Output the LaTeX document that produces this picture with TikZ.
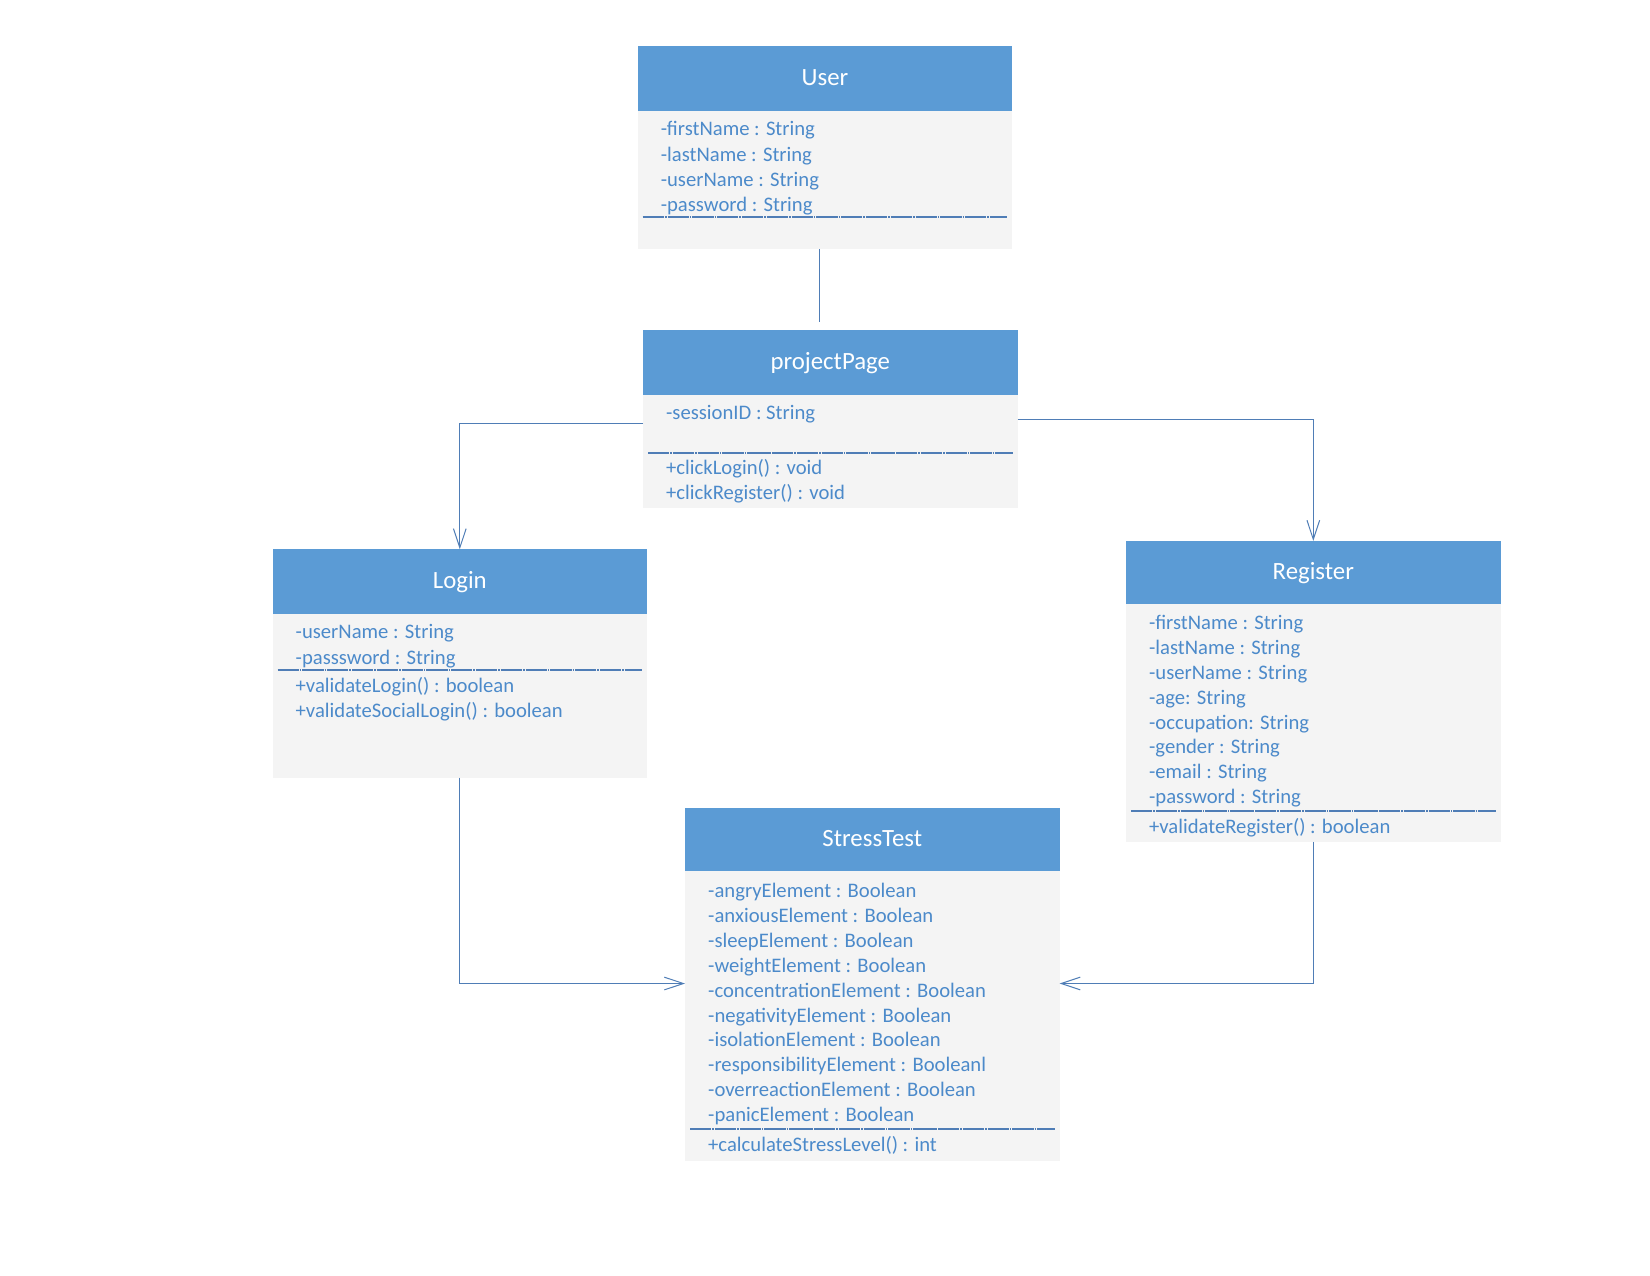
\documentclass[tikz,border=0pt]{standalone}
\usepackage{fontspec}
\setmainfont{Carlito}
\usetikzlibrary{arrows.meta,calc}
\definecolor{headblue}{RGB}{91,155,213}
\definecolor{bodygrey}{RGB}{244,244,244}
\definecolor{txtblue}{RGB}{76,138,202}
\definecolor{lineblue}{RGB}{79,125,182}
\tikzset{
  headbox/.style={fill=headblue, draw=none, inner sep=0pt, outer sep=0pt, text=white,
    font=\fontsize{18.6}{20}\selectfont, text height=11.8pt, text depth=1pt,
    minimum width=374.6*0.75pt},
  bodybox/.style={fill=bodygrey, draw=none, inner sep=0pt, outer sep=0pt},
  attr/.style={text=txtblue, inner sep=0pt, outer sep=0pt, font=\fontsize{15.5}{18}\selectfont},
  divider/.style={draw=lineblue, line width=1.5pt,
    dash pattern=on 16pt off 0.7pt on 1.2pt off 0.7pt},
  assoc/.style={draw=lineblue, line width=0.75pt,
    -{Straight Barb[length=14.3pt, width=9.5pt, line width=0.75pt]}},
  plainline/.style={draw=lineblue, line width=0.75pt},
}
\newcommand\classbox[6]{%
  \node[bodybox, anchor=north west, minimum width=374.6*0.75pt,
        minimum height={(#5-#4)*0.75pt}] (#1-body) at (#2,#4) {};
  \node[headbox, anchor=center, minimum height={(#4-#3)*0.75pt}]
        (#1-head) at ({#2+187.3},{(#3+#4)/2}) {#6};
}
\newcommand\attrlines[5]{%
  \foreach \t [count=\i] in {#5} {
    \node[attr, anchor=base west] (#1-l\i) at (#2,{#3+#4*(\i-1)}) {\t};
  }%
}
\newcommand\divline[2]{%
  \draw[divider] ($(#1-body.west|-0,#2)+(5,0)$) -- ($(#1-body.east|-0,#2)+(-5,0)$);
}
\begin{document}
\begin{tikzpicture}[x=0.75pt,y=-0.75pt]
\useasboundingbox (0,0) rectangle (1650,1275);
\fill[white] (0,0) rectangle (1650,1275);

% User
\classbox{user}{637.7}{46.3}{110.5}{249.4}{User}
\attrlines{user}{660.8}{135.7}{25.3}{-firstName : String,-lastName : String,-userName : String,-password : String}
\divline{user}{217.3}

% projectPage
\classbox{pp}{643}{330.4}{394.6}{508.3}{projectPage}
\attrlines{pp}{666.1}{419.8}{25.3}{-sessionID : String}
\divline{pp}{452.5}
\attrlines{ppm}{666.1}{474.5}{25.3}{+clickLogin() : void,+clickRegister() : void}

% Login
\classbox{login}{272.5}{549.3}{613.5}{777.7}{Login}
\attrlines{login}{295.7}{638.7}{25.3}{-userName : String,-passsword : String}
\divline{login}{670.3}
\attrlines{loginm}{295.7}{692.3}{25.3}{+validateLogin() : boolean,+validateSocialLogin() : boolean}

% Register
\classbox{reg}{1126}{540.9}{604}{841.8}{Register}
\attrlines{reg}{1149.1}{629.2}{24.95}{-firstName : String,-lastName : String,-userName : String,-age: String,-occupation: String,-gender : String,-email : String,-password : String}
\divline{reg}{811.3}
\attrlines{regm}{1149.1}{833.4}{25}{+validateRegister() : boolean}

% StressTest
\classbox{st}{685}{808.2}{871.3}{1160.7}{StressTest}
\attrlines{st}{708.2}{897.5}{24.9}{-angryElement : Boolean,-anxiousElement : Boolean,-sleepElement : Boolean,-weightElement : Boolean,-concentrationElement : Boolean,-negativityElement : Boolean,-isolationElement : Boolean,-responsibilityElement : Booleanl,-overreactionElement : Boolean,-panicElement : Boolean}
\divline{st}{1129.1}
\attrlines{stm}{708.2}{1151.2}{25}{+calculateStressLevel() : int}

% connectors
\coordinate (uend) at (819.7,322);
\draw[plainline] (user-body.south -| uend) -- (uend);
\draw[assoc] (pp-body.west |- 0,423) -| (login-head.north);
\draw[assoc] (pp-body.east |- 0,419.9) -| (reg-head.north);
\draw[assoc] (login-body.south) |- (st-body.west |- 0,983.5);
\draw[assoc] (reg-body.south) |- (st-body.east |- 0,983.5);
\end{tikzpicture}
\end{document}
